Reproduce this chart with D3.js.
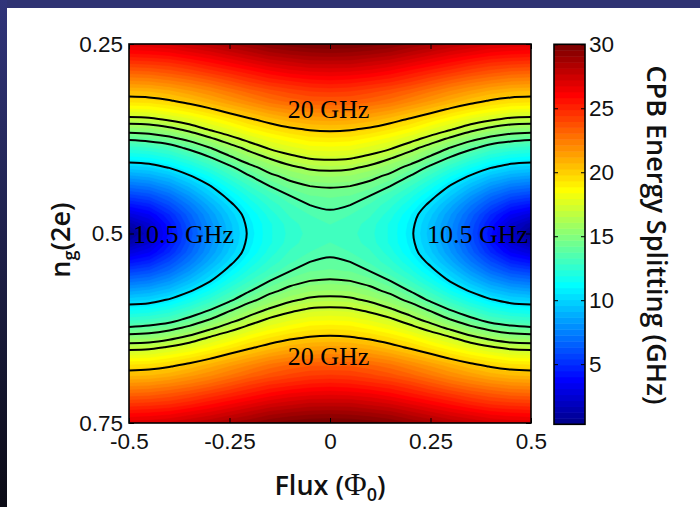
<!DOCTYPE html>
<html>
<head>
<meta charset="utf-8">
<script src="https://cdn.jsdelivr.net/npm/d3@7"></script>
<style>
  html, body { margin: 0; padding: 0; background: #fff; }
  svg { display: block; }
</style>
</head>
<body>
<svg id="chart" width="700" height="507"></svg>
<script>
// ---- axis ticks and labels ----
const fluxTicks = [-0.5, -0.25, 0, 0.25, 0.5];
const fluxTickLabels = ["-0.5", "-0.25", "0", "0.25", "0.5"];
const ngTicks = [0.25, 0.5, 0.75];
const ngTickLabels = ["0.25", "0.5", "0.75"];
const colorTicks = [5, 10, 15, 20, 25, 30];
const colorTickLabels = ["5", "10", "15", "20", "25", "30"];
const colorRange = [0.3, 30];           // GHz, limits of the colour axis
const contourLevels = [10.5, 13.7, 14.8, 16.1, 17.1, 20];  // GHz

// ---- CPB splitting map (GHz) ----
// The map is symmetric in flux about 0 and in n_g about 0.5, so one quadrant
// (flux from -0.5 to 0, n_g from 0.25 to 0.5) is tabulated and mirrored.
const quadFlux = [-0.5, -0.45, -0.4, -0.35, -0.3, -0.25, -0.2, -0.15, -0.1, -0.05, 0];
const quadNg = [0.25, 0.2625, 0.275, 0.2875, 0.3, 0.3125, 0.325, 0.3375, 0.35, 0.3625,
                0.375, 0.3875, 0.4, 0.4125, 0.425, 0.4375, 0.45, 0.4625, 0.475, 0.4875, 0.5];
const quadSplitting = [
  [27.0, 27.1, 27.3, 27.7, 28.1, 28.6, 29.0, 29.5, 29.8, 30.0, 30.0],
  [25.8, 25.9, 26.1, 26.5, 26.9, 27.4, 27.9, 28.4, 28.7, 28.9, 29.0],
  [24.5, 24.6, 24.8, 25.2, 25.7, 26.2, 26.7, 27.2, 27.5, 27.8, 27.8],
  [23.2, 23.3, 23.6, 24.0, 24.5, 25.0, 25.5, 26.0, 26.4, 26.6, 26.7],
  [21.9, 22.0, 22.3, 22.7, 23.2, 23.8, 24.4, 24.9, 25.2, 25.5, 25.6],
  [20.6, 20.7, 21.0, 21.5, 22.0, 22.6, 23.2, 23.7, 24.1, 24.4, 24.5],
  [19.5, 19.6, 19.9, 20.4, 21.0, 21.6, 22.2, 22.8, 23.2, 23.5, 23.5],
  [18.1, 18.2, 18.6, 19.1, 19.7, 20.4, 21.0, 21.6, 22.0, 22.3, 22.4],
  [16.7, 16.8, 17.2, 17.7, 18.4, 19.1, 19.8, 20.4, 20.9, 21.2, 21.3],
  [15.3, 15.4, 15.8, 16.4, 17.2, 17.9, 18.7, 19.3, 19.8, 20.1, 20.2],
  [13.9, 14.1, 14.5, 15.1, 15.9, 16.7, 17.5, 18.2, 18.7, 19.1, 19.2],
  [12.5, 12.7, 13.1, 13.9, 14.7, 15.6, 16.4, 17.2, 17.7, 18.1, 18.2],
  [11.2, 11.4, 11.9, 12.7, 13.6, 14.6, 15.5, 16.2, 16.8, 17.2, 17.3],
  [ 9.8, 10.0, 10.6, 11.5, 12.5, 13.5, 14.5, 15.3, 15.9, 16.3, 16.4],
  [ 8.4,  8.7,  9.3, 10.3, 11.4, 12.6, 13.6, 14.5, 15.1, 15.5, 15.6],
  [ 7.0,  7.3,  8.1,  9.2, 10.4, 11.7, 12.8, 13.7, 14.4, 14.8, 14.9],
  [ 5.6,  6.0,  6.9,  8.2,  9.6, 10.9, 12.1, 13.0, 13.7, 14.2, 14.3],
  [ 4.2,  4.7,  5.9,  7.3,  8.8, 10.2, 11.5, 12.5, 13.2, 13.7, 13.9],
  [ 2.8,  3.5,  4.9,  6.6,  8.2,  9.7, 11.0, 12.1, 12.9, 13.3, 13.5],
  [ 1.4,  2.5,  4.3,  6.2,  7.9,  9.4, 10.8, 11.8, 12.6, 13.1, 13.3],
  [ 0.3,  2.1,  4.1,  6.0,  7.8,  9.3, 10.7, 11.8, 12.5, 13.0, 13.2]
];

// Contour annotations: text and the (flux, n_g) point they are anchored at.
const contourLabelText = ["20 GHz", "20 GHz", "10.5 GHz", "10.5 GHz"];
const contourLabelFlux = [-0.105, -0.105, -0.49, 0.4925];
const contourLabelNg = [0.3476, 0.6735, 0.5123, 0.5123];
const contourLabelAnchor = ["start", "start", "start", "end"];

// ---- build the full grid by mirroring the quadrant ----
const fluxSamples = quadFlux.concat(quadFlux.slice(0, -1).reverse().map(f => -f));
const ngSamples = quadNg.concat(quadNg.slice(0, -1).reverse().map(n => 1 - n));
const halfRows = quadSplitting.map(row => row.concat(row.slice(0, -1).reverse()));
const fullRows = halfRows.concat(halfRows.slice(0, -1).reverse());
const nx = fluxSamples.length, ny = ngSamples.length;
const values = [].concat(...fullRows);

// ---- MATLAB-style jet colormap ----
function jetColormap(m) {
  const n = Math.ceil(m / 4);
  const u = [];
  for (let i = 1; i <= n; i++) u.push(i / n);
  for (let i = 1; i < n; i++) u.push(1);
  for (let i = n; i >= 1; i--) u.push(i / n);
  const off = Math.ceil(n / 2) - (m % 4 === 1 ? 1 : 0);
  const rgb = Array.from({length: m}, () => [0, 0, 0]);
  u.forEach((v, k) => {
    const g = off + k + 1, r = g + n, b = g - n;
    if (r >= 1 && r <= m) rgb[r - 1][0] = v;
    if (g >= 1 && g <= m) rgb[g - 1][1] = v;
    if (b >= 1 && b <= m) rgb[b - 1][2] = v;
  });
  return rgb.map(([r, g, b]) => d3.rgb(r * 255, g * 255, b * 255).formatHex());
}
const jet = jetColormap(64);
const colorScale = d3.scaleQuantize().domain(colorRange).range(jet);
const bandEdges = [colorRange[0]].concat(colorScale.thresholds(), [colorRange[1]]);

// ---- layout ----
const W = 700, H = 507;
const svg = d3.select("#chart");
const x = d3.scaleLinear().domain([-0.5, 0.5]).range([129, 531]);
const y = d3.scaleLinear().domain([0.25, 0.75]).range([44, 423]);
const cy = d3.scaleLinear().domain(colorRange).range([424.3, 44.3]);
const cbar = {x0: 554, x1: 585};

const tickFont = "'Liberation Sans', Arial, Helvetica, sans-serif";
const labelFont = "'Open Sans', 'Noto Sans', sans-serif";

// background and slide frame
const defs = svg.append("defs");
const frameGrad = defs.append("linearGradient").attr("id", "frameGrad")
  .attr("x1", 0).attr("y1", 0).attr("x2", 0).attr("y2", 1);
frameGrad.append("stop").attr("offset", "0%").attr("stop-color", "#30347a");
frameGrad.append("stop").attr("offset", "100%").attr("stop-color", "#0b0b15");
defs.append("clipPath").attr("id", "plotClip").append("rect")
  .attr("x", x(-0.5)).attr("y", y(0.25))
  .attr("width", x(0.5) - x(-0.5)).attr("height", y(0.75) - y(0.25));

svg.append("rect").attr("width", W).attr("height", H).attr("fill", "#fff");
svg.append("rect").attr("x", 0).attr("y", 0).attr("width", W).attr("height", 8).attr("fill", "#2f3373");
svg.append("rect").attr("x", 0).attr("y", 0).attr("width", 7).attr("height", H).attr("fill", "url(#frameGrad)");

// grid coordinates (sample i sits at i + 0.5) -> pixels
const gx = d3.scaleLinear().domain([0.5, nx - 0.5]).range([x(fluxSamples[0]), x(fluxSamples[nx - 1])]);
const gy = d3.scaleLinear().domain([0.5, ny - 0.5]).range([y(ngSamples[0]), y(ngSamples[ny - 1])]);
const gridPath = d3.geoPath(d3.geoTransform({
  point(px, py) { this.stream.point(gx(px), gy(py)); }
}));

// filled colour bands, one per colormap entry
const mapG = svg.append("g").attr("clip-path", "url(#plotClip)");
mapG.append("rect")
  .attr("x", x(-0.5)).attr("y", y(0.25))
  .attr("width", x(0.5) - x(-0.5)).attr("height", y(0.75) - y(0.25))
  .attr("fill", jet[0]);
const bands = d3.contours().size([nx, ny]).thresholds(colorScale.thresholds())(values);
mapG.selectAll("path.band").data(bands).join("path")
  .attr("class", "band")
  .attr("d", gridPath)
  .attr("fill", (d, i) => jet[i + 1])
  .attr("stroke", (d, i) => jet[i + 1])
  .attr("stroke-width", 0.6);

// contour lines
function interiorRuns(ring) {
  const pts = ring.slice(0, -1);
  const eps = 1e-9;
  const inside = p => p[0] >= 0.5 - eps && p[0] <= nx - 0.5 + eps &&
                      p[1] >= 0.5 - eps && p[1] <= ny - 0.5 + eps;
  const start = pts.findIndex(p => !inside(p));
  if (start < 0) return [{pts, closed: true}];
  const rot = pts.slice(start).concat(pts.slice(0, start));
  const runs = [];
  let cur = [];
  rot.forEach(p => {
    if (inside(p)) cur.push(p);
    else { if (cur.length > 1) runs.push({pts: cur, closed: false}); cur = []; }
  });
  if (cur.length > 1) runs.push({pts: cur, closed: false});
  return runs;
}
const openLine = d3.line().x(p => gx(p[0])).y(p => gy(p[1])).curve(d3.curveCatmullRom.alpha(0.5));
const closedLine = d3.line().x(p => gx(p[0])).y(p => gy(p[1])).curve(d3.curveCatmullRomClosed.alpha(0.5));
const lineG = mapG.append("g").attr("fill", "none").attr("stroke", "#000")
  .attr("stroke-width", 2).attr("stroke-linejoin", "round");
contourLevels.forEach(level => {
  const c = d3.contours().size([nx, ny]).thresholds([level])(values)[0];
  c.coordinates.forEach(poly => poly.forEach(ring => {
    interiorRuns(ring).forEach(run => {
      lineG.append("path").attr("d", run.closed ? closedLine(run.pts) : openLine(run.pts));
    });
  }));
});

// contour annotations
svg.append("g").selectAll("text").data(contourLabelText).join("text")
  .attr("x", (d, i) => x(contourLabelFlux[i]))
  .attr("y", (d, i) => y(contourLabelNg[i]))
  .attr("text-anchor", (d, i) => contourLabelAnchor[i])
  .attr("font-family", "'Liberation Serif', 'Times New Roman', serif")
  .attr("font-size", 26)
  .attr("fill", "#000")
  .text(d => d);

// axes: ticks point inward on all four sides
const axisG = svg.append("g").attr("font-family", tickFont);
function styleAxis(g) {
  g.select(".domain").remove();
  g.selectAll(".tick line").attr("stroke", "#000").attr("stroke-width", 1);
  g.selectAll(".tick text").attr("font-size", 22.5).attr("fill", "#111").attr("font-family", tickFont);
}
axisG.append("g").attr("transform", `translate(0,${y(0.75)})`)
  .call(d3.axisBottom(x).tickValues(fluxTicks).tickFormat((d, i) => fluxTickLabels[i])
    .tickSize(-5).tickSizeOuter(0).tickPadding(10))
  .call(styleAxis);
axisG.append("g").attr("transform", `translate(0,${y(0.25)})`)
  .call(d3.axisTop(x).tickValues(fluxTicks).tickFormat("").tickSize(-5).tickSizeOuter(0))
  .call(styleAxis);
axisG.append("g").attr("transform", `translate(${x(-0.5)},0)`)
  .call(d3.axisLeft(y).tickValues(ngTicks).tickFormat((d, i) => ngTickLabels[i])
    .tickSize(-5).tickSizeOuter(0).tickPadding(6))
  .call(styleAxis);
axisG.append("g").attr("transform", `translate(${x(0.5)},0)`)
  .call(d3.axisRight(y).tickValues(ngTicks).tickFormat("").tickSize(-5).tickSizeOuter(0))
  .call(styleAxis);
svg.append("rect")
  .attr("x", x(-0.5)).attr("y", y(0.25))
  .attr("width", x(0.5) - x(-0.5)).attr("height", y(0.75) - y(0.25))
  .attr("fill", "none").attr("stroke", "#000").attr("stroke-width", 1.6);

// colour bar
const cbG = svg.append("g");
cbG.selectAll("rect.swatch").data(jet).join("rect")
  .attr("class", "swatch")
  .attr("x", cbar.x0).attr("width", cbar.x1 - cbar.x0)
  .attr("y", (d, i) => cy(bandEdges[i + 1]))
  .attr("height", (d, i) => cy(bandEdges[i]) - cy(bandEdges[i + 1]) + 0.5)
  .attr("fill", d => d);
cbG.append("g").attr("transform", `translate(${cbar.x1},0)`)
  .call(d3.axisRight(cy).tickValues(colorTicks).tickFormat((d, i) => colorTickLabels[i])
    .tickSize(-4).tickSizeOuter(0).tickPadding(4))
  .call(styleAxis);
cbG.append("g").attr("transform", `translate(${cbar.x0},0)`)
  .call(d3.axisLeft(cy).tickValues(colorTicks).tickFormat("").tickSize(-4).tickSizeOuter(0))
  .call(styleAxis);
cbG.append("rect")
  .attr("x", cbar.x0).attr("y", cy(colorRange[1]))
  .attr("width", cbar.x1 - cbar.x0).attr("height", cy(colorRange[0]) - cy(colorRange[1]))
  .attr("fill", "none").attr("stroke", "#000").attr("stroke-width", 1.6);

// axis titles
svg.append("text")
  .attr("transform", "translate(657,235) rotate(90)")
  .attr("text-anchor", "middle").attr("dominant-baseline", "central")
  .attr("font-family", labelFont).attr("font-weight", 600).attr("font-size", 27)
  .attr("fill", "#111")
  .text("CPB Energy Splitting (GHz)");

const xTitle = svg.append("text")
  .attr("x", 330).attr("y", 495)
  .attr("text-anchor", "middle")
  .attr("font-family", labelFont).attr("font-weight", 600).attr("font-size", 27)
  .attr("fill", "#111");
xTitle.append("tspan").text("Flux (");
xTitle.append("tspan").attr("font-family", "'Liberation Serif', serif").attr("font-weight", 400)
  .attr("font-size", 31).text("Φ");
xTitle.append("tspan").attr("font-size", 18).attr("dy", 6).text("0");
xTitle.append("tspan").attr("dy", -6).text(")");

const yTitle = svg.append("text")
  .attr("transform", "translate(70,240) rotate(-90)")
  .attr("text-anchor", "middle")
  .attr("font-family", labelFont).attr("font-weight", 600).attr("font-size", 27)
  .attr("fill", "#111");
yTitle.append("tspan").text("n");
yTitle.append("tspan").attr("font-size", 18).attr("dy", 6).text("g");
yTitle.append("tspan").attr("dy", -6).text("(2e)");
</script>
</body>
</html>
